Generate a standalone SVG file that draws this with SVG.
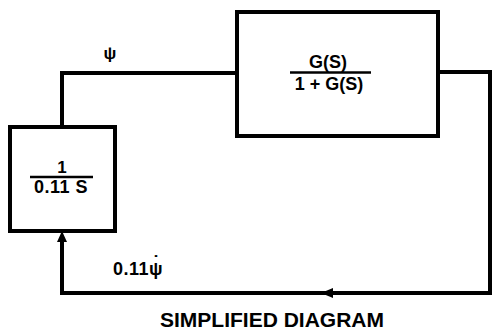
<svg xmlns="http://www.w3.org/2000/svg" width="492" height="333" viewBox="0 0 492 333">
<style>
.box{fill:#fff;stroke:#000;stroke-width:4}
.wire{fill:none;stroke:#000;stroke-width:4;stroke-linejoin:miter}
.t{font-family:"Liberation Sans",Arial,sans-serif;font-weight:bold;fill:#000}
.frac{stroke:#000;stroke-width:2.5}
</style>
<rect width="492" height="333" fill="#fff"/>
<g id="connectors">
<path class="wire" d="M62 127 V73 H237"/>
<path class="wire" d="M438 72 H490 V293 H62 V240"/>
<polygon points="62,231 57,242 67,242" fill="#000"/>
<polygon points="321,293 333,288 333,298" fill="#000"/>
</g>
<g id="closed-loop">
<rect class="box" x="237" y="12" width="201" height="124"/>
<text class="t" x="328" y="68" font-size="18" text-anchor="middle">G(S)</text>
<line class="frac" x1="290" y1="72.5" x2="371" y2="72.5"/>
<text class="t" x="329" y="90" font-size="18" text-anchor="middle">1 + G(S)</text>
</g>
<g id="integrator">
<rect class="box" x="10" y="127" width="105" height="104"/>
<text class="t" x="62" y="173" font-size="17" text-anchor="middle">1</text>
<line class="frac" x1="30" y1="177" x2="93" y2="177"/>
<text class="t" x="61" y="193" font-size="18" text-anchor="middle" letter-spacing="0.5">0.11 S</text>
</g>
<g id="labels">
<text class="t" x="110" y="59" font-size="17" text-anchor="middle">ψ</text>
<text class="t" x="113" y="275" font-size="18" letter-spacing="0.5">0.11ψ<tspan x="153" y="269">˙</tspan></text>
<text class="t" x="272" y="327" font-size="21" text-anchor="middle">SIMPLIFIED DIAGRAM</text>
</g>
</svg>
